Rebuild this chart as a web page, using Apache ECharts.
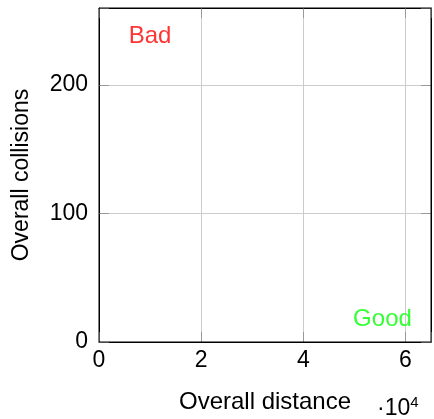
<!DOCTYPE html>
<html><head><meta charset="utf-8">
<script src="https://cdn.jsdelivr.net/npm/echarts@6/dist/echarts.min.js"></script>
<style>html,body{margin:0;padding:0;background:#fff}#c{width:434px;height:419px}</style>
</head><body><div id="c"></div>
<script>
const xTicks = [0, 20000, 40000, 60000];
const yTicks = [0, 100, 200];
const xRange = [0, 65000];
const yRange = [0, 260];
const annotations = ['Bad', 'Good'];
const annotationX = [10000, 55500];
const annotationY = [238, 18];
const annotationColors = ['#ff0000', '#00ff00'];
const xTitle = 'Overall distance';
const yTitle = 'Overall collisions';

const FONT = '"Liberation Sans", Arial, sans-serif';
const FS = 23;
const chart = echarts.init(document.getElementById('c'), null, {renderer: 'canvas'});
const gridLine = {show: true, showMinLine: false, showMaxLine: false, lineStyle: {color: '#cccccc', width: 1}};
const tick = {show: true, inside: true, length: 10, lineStyle: {color: '#999999', width: 1}};
const axLine = {show: true, onZero: false, lineStyle: {color: '#000000', width: 1, opacity: 1}};
chart.setOption({
  animation: false,
  grid: {left: 99, top: 8, width: 336, height: 336, containLabel: false, z: 10,
    show: true, borderColor: '#000000', borderWidth: 1, backgroundColor: 'transparent'},
  xAxis: [{
    type: 'value', min: xRange[0], max: xRange[1], interval: 20000,
    position: 'bottom',
    axisLine: axLine, axisTick: tick, splitLine: gridLine,
    axisLabel: {color: '#000', fontFamily: FONT, fontSize: FS, margin: 7,
      formatter: v => xTicks.includes(v) ? String(v / 10000) : ''},
    name: xTitle, nameLocation: 'middle', nameGap: 48,
    nameTextStyle: {color: '#000', fontFamily: FONT, fontSize: 24}
  }, {
    type: 'value', min: xRange[0], max: xRange[1], interval: 20000,
    position: 'top',
    axisLine: axLine, axisTick: tick, splitLine: {show: false}, axisLabel: {show: false}
  }],
  yAxis: [{
    type: 'value', min: yRange[0], max: yRange[1], interval: 100,
    position: 'left',
    axisLine: axLine, axisTick: tick, splitLine: gridLine,
    axisLabel: {color: '#000', fontFamily: FONT, fontSize: FS, margin: 11,
      formatter: v => yTicks.includes(v) ? String(v) : ''},
    name: yTitle, nameLocation: 'middle', nameGap: 66,
    nameTextStyle: {color: '#000', fontFamily: FONT, fontSize: FS}
  }, {
    type: 'value', min: yRange[0], max: yRange[1], interval: 100,
    position: 'right',
    axisLine: axLine, axisTick: tick, splitLine: {show: false}, axisLabel: {show: false}
  }],
  graphic: [{
    type: 'text', left: 377, top: 395,
    style: {
      text: '{a|·10}{b|4}',
      rich: {
        a: {fontFamily: FONT, fontSize: FS, fill: '#000', verticalAlign: 'bottom'},
        b: {fontFamily: FONT, fontSize: 15, fill: '#000', verticalAlign: 'top', padding: [0, 0, 10, 0]}
      }
    }
  }],
  series: [{
    type: 'scatter',
    symbolSize: 0,
    silent: true,
    data: annotations.map((t, i) => ({
      value: [annotationX[i], annotationY[i]],
      label: {show: true, position: 'inside', formatter: t,
        color: annotationColors[i], fontFamily: FONT, fontSize: 24}
    }))
  }]
});
</script></body></html>
